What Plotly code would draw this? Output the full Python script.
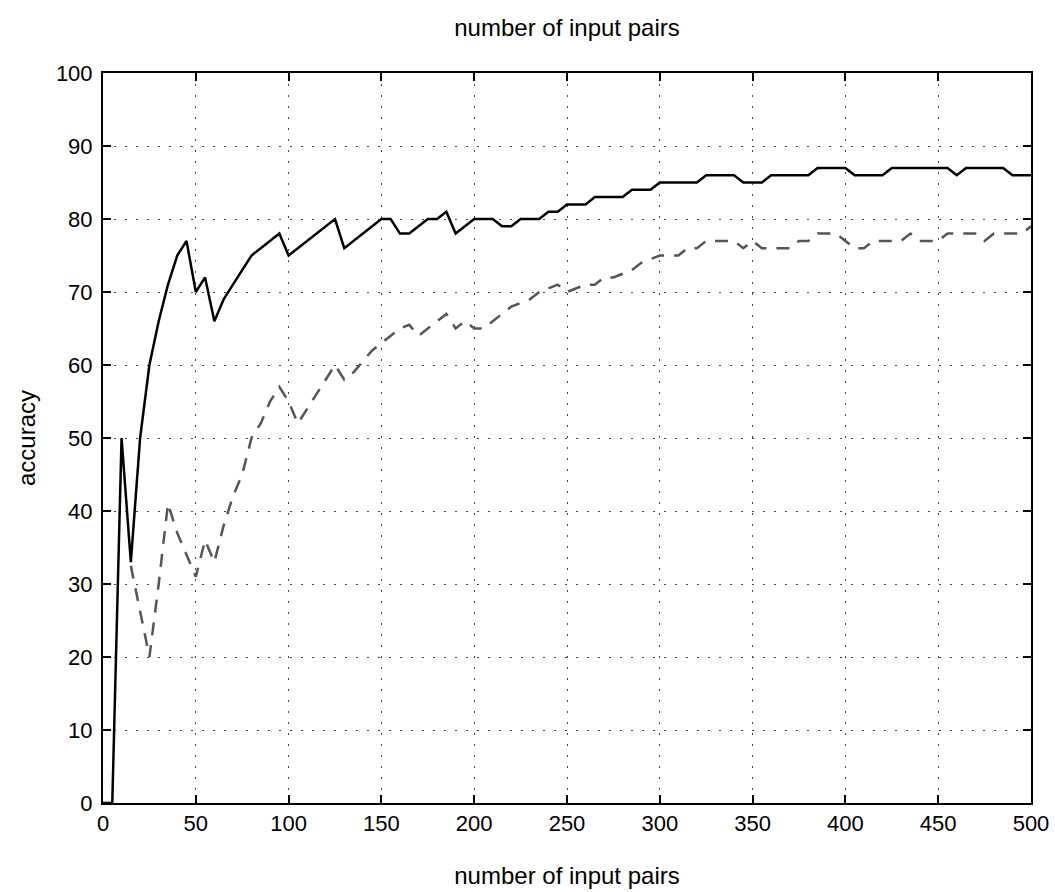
import plotly.graph_objects as go

# x positions (number of input pairs)
pairs_solid = list(range(0, 505, 5))
acc_solid = [
    0, 0, 50, 33, 50, 60, 66, 71, 75, 77,        # 0-45
    70, 72, 66, 69, 71, 73, 75, 76, 77, 78,      # 50-95
    75, 76, 77, 78, 79, 80, 76, 77, 78, 79,      # 100-145
    80, 80, 78, 78, 79, 80, 80, 81, 78, 79,      # 150-195
    80, 80, 80, 79, 79, 80, 80, 80, 81, 81,      # 200-245
    82, 82, 82, 83, 83, 83, 83, 84, 84, 84,      # 250-295
    85, 85, 85, 85, 85, 86, 86, 86, 86, 85,      # 300-345
    85, 85, 86, 86, 86, 86, 86, 87, 87, 87,      # 350-395
    87, 86, 86, 86, 86, 87, 87, 87, 87, 87,      # 400-445
    87, 87, 86, 87, 87, 87, 87, 87, 86, 86,      # 450-495
    86,                                          # 500
]

pairs_dashed = list(range(15, 505, 5))
acc_dashed = [
    32.5, 26, 20, 30, 41, 37, 34,                # 15-45
    31, 36, 33, 38, 42, 45, 50, 52, 55, 57,      # 50-95
    55, 52, 54, 56, 58, 60, 58, 59, 60.5, 62,    # 100-145
    63, 64, 65, 65.5, 64, 65, 66, 67, 65, 66,    # 150-195
    65, 65, 66, 67, 68, 68.5, 69, 70, 70.5, 71,  # 200-245
    70, 70.5, 71, 71, 72, 72, 72.5, 73, 74, 74.5,  # 250-295
    75, 75, 75, 76, 76, 77, 77, 77, 77, 76,      # 300-345
    77, 76, 76, 76, 76, 77, 77, 78, 78, 78,      # 350-395
    77, 76, 76, 77, 77, 77, 77, 78, 77, 77,      # 400-445
    77, 78, 78, 78, 78, 77, 78, 78, 78, 78,      # 450-495
    79,                                          # 500
]

x_ticks = list(range(0, 501, 50))
y_ticks = list(range(0, 101, 10))

font_family = "Liberation Sans, Arial, Helvetica, sans-serif"
tick_size = 22
title_size = 24

fig = go.Figure()
fig.add_trace(go.Scatter(
    x=pairs_dashed, y=acc_dashed, mode="lines",
    line=dict(color="#555555", width=2.5, dash="13px,10px"),
    showlegend=False,
))
fig.add_trace(go.Scatter(
    x=pairs_solid, y=acc_solid, mode="lines",
    line=dict(color="black", width=2.5),
    showlegend=False,
))

axis_common = dict(
    showline=True, linecolor="black", linewidth=2, mirror="allticks",
    ticks="inside", ticklen=8, tickwidth=2, tickcolor="black",
    showgrid=True, gridcolor="#444444", gridwidth=1, griddash="1.5px,9.5px",
    zeroline=False, automargin=False,
    tickfont=dict(size=tick_size, color="black", family=font_family),
)

fig.update_xaxes(
    range=[0, 500], tickvals=x_ticks, ticktext=[str(v) for v in x_ticks],
    title=dict(text="number of input pairs", font=dict(size=title_size, color="black", family=font_family), standoff=32),
    ticklabelstandoff=0,
    **axis_common,
)
fig.update_yaxes(
    range=[0, 100], tickvals=y_ticks, ticktext=[str(v) for v in y_ticks],
    title=dict(text="accuracy", font=dict(size=title_size, color="black", family=font_family), standoff=13),
    ticklabelstandoff=4,
    **axis_common,
)

fig.update_layout(
    width=1055, height=892,
    margin=dict(l=103, r=24, t=73, b=89, autoexpand=False),
    paper_bgcolor="white", plot_bgcolor="white",
    title=dict(text="number of input pairs", xref="paper", x=0.5, xanchor="center",
               yref="container", y=0.969, yanchor="middle",
               font=dict(size=title_size, color="black", family=font_family)),
)

fig.write_html("out.html")
